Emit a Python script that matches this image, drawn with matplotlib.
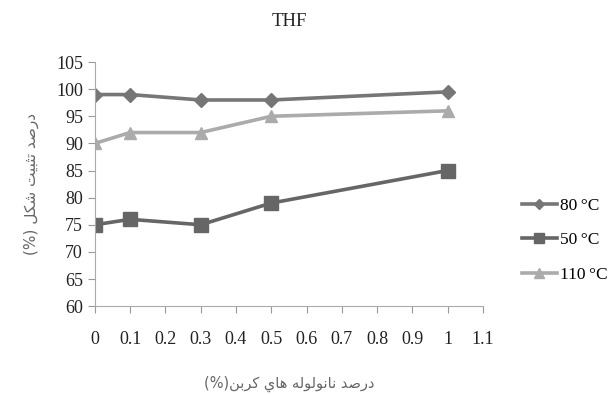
import matplotlib
matplotlib.use("Agg")
import matplotlib.pyplot as plt

# CNT percentage on x, shape fixity (%) on y
x = [0, 0.1, 0.3, 0.5, 1]
fix_80 = [99, 99, 98, 98, 99.5]
fix_50 = [75, 76, 75, 79, 85]
fix_110 = [90, 92, 92, 95, 96]

labels = ["80\u2009°C", "50\u2009°C", "110\u2009°C"]
xticks = [0, 0.1, 0.2, 0.3, 0.4, 0.5, 0.6, 0.7, 0.8, 0.9, 1, 1.1]
xtick_labels = ["0", "0.1", "0.2", "0.3", "0.4", "0.5", "0.6", "0.7", "0.8", "0.9", "1", "1.1"]

# Persian labels written with presentation forms, in visual order
# درصد تثبيت شكل (%)
ylab = "(%) " + "\uFEDE\uFEDC\uFEB7" + " " + "\uFE96\uFEF4\uFE92\uFE9C\uFE97" + " " + "\uFEAA\uFEBB\uFEAD\uFEA9"
# درصد نانولوله هاي كربن(%)
xlab = ("(%)" + "\uFEE6\uFE91\uFEAE\uFEDB" + " " + "\uFEF1\uFE8E\uFEEB" + " "
        + "\uFEEA\uFEDF\uFEEE\uFEDF\uFEEE\uFEE7\uFE8E\uFEE7" + " " + "\uFEAA\uFEBB\uFEAD\uFEA9")

plt.rcParams['font.family'] = ['Liberation Serif', 'DejaVu Sans']

fig = plt.figure(figsize=(6.16, 3.95), dpi=100)
ax = fig.add_axes([0.154, 0.225, 0.63, 0.618])

ax.plot(x, fix_80, color='#767676', lw=2.6, marker='D', ms=7, label=labels[0])
ax.plot(x, fix_50, color='#666666', lw=2.6, marker='s', ms=10, label=labels[1])
ax.plot(x, fix_110, color='#ababab', lw=2.6, marker='^', ms=9, label=labels[2])

ax.set_xlim(0, 1.1)
ax.set_ylim(60, 105)
ax.set_yticks(range(60, 106, 5))
ax.set_xticks(xticks)
ax.set_xticklabels(xtick_labels)
ax.tick_params(labelsize=13, colors='#999999', labelcolor='#222222', length=5)
ax.tick_params(axis='x', pad=13)
for s in ['top', 'right']:
    ax.spines[s].set_visible(False)
for s in ['left', 'bottom']:
    ax.spines[s].set_color('#aaaaaa')

ax.set_title("THF", fontsize=13.5, color='#222222', pad=26)
ax.set_ylabel(ylab, family=['DejaVu Sans'], fontsize=11, color='#666666', labelpad=12)
ax.set_xlabel(xlab, family=['DejaVu Sans'], fontsize=10.5, color='#666666', labelpad=20)

ax.legend(loc='center left', bbox_to_anchor=(1.06, 0.27), frameon=False,
          prop={'family': ['Liberation Serif', 'DejaVu Sans'], 'size': 12.5},
          handlelength=2.0, labelspacing=1.05, handletextpad=0.2,
          markerscale=0.75)

fig.savefig("out.png", dpi=100)
